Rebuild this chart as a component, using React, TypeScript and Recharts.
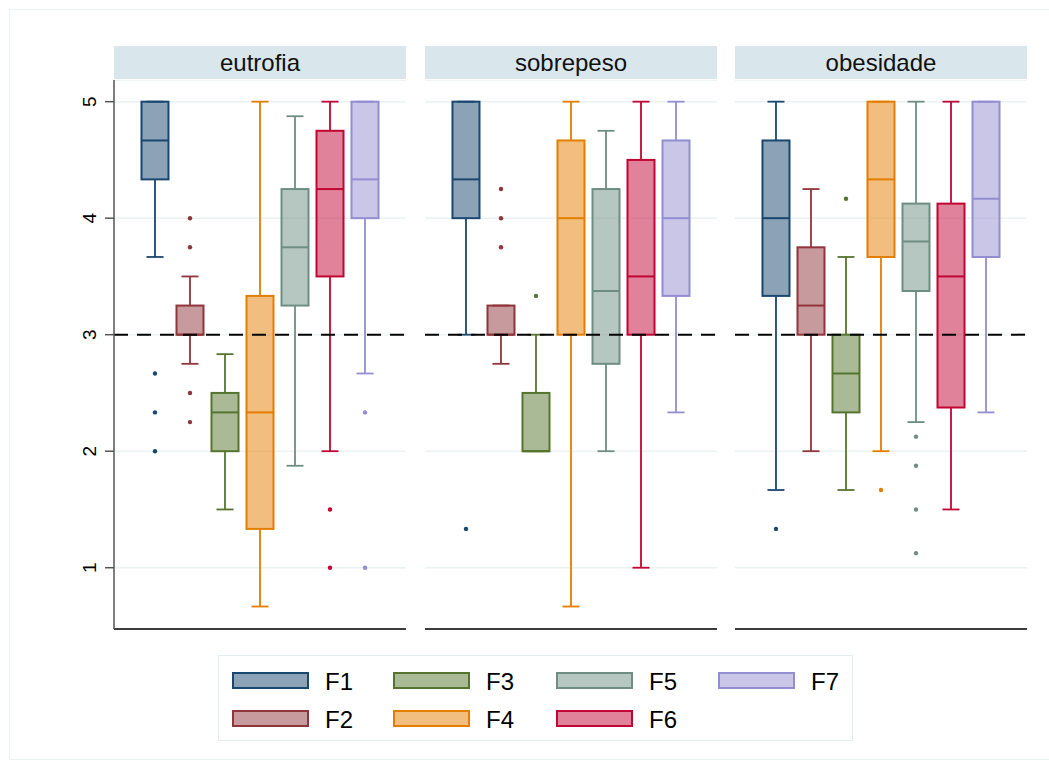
import { ComposedChart, Bar, Scatter, XAxis, YAxis, CartesianGrid, ReferenceLine } from 'recharts'

const factors = ['F1', 'F2', 'F3', 'F4', 'F5', 'F6', 'F7']
const groups = ['eutrofia', 'sobrepeso', 'obesidade']
const lineColors = ['#1a476f', '#90353b', '#55752f', '#e37e00', '#6e8e84', '#c10534', '#938dd2']
const yTicks = [1, 2, 3, 4, 5]

// [lower whisker, Q1, median, Q3, upper whisker] per factor
const eutrofiaStats = [
  [3.667, 4.333, 4.667, 5, 5],
  [2.75, 3, 3, 3.25, 3.5],
  [1.5, 2, 2.333, 2.5, 2.833],
  [0.667, 1.333, 2.333, 3.333, 5],
  [1.875, 3.25, 3.75, 4.25, 4.875],
  [2, 3.5, 4.25, 4.75, 5],
  [2.667, 4, 4.333, 5, 5],
]
const sobrepesoStats = [
  [3, 4, 4.333, 5, 5],
  [2.75, 3, 3, 3.25, 3.25],
  [2, 2, 2, 2.5, 3],
  [0.667, 3, 4, 4.667, 5],
  [2, 2.75, 3.375, 4.25, 4.75],
  [1, 3, 3.5, 4.5, 5],
  [2.333, 3.333, 4, 4.667, 5],
]
const obesidadeStats = [
  [1.667, 3.333, 4, 4.667, 5],
  [2, 3, 3.25, 3.75, 4.25],
  [1.667, 2.333, 2.667, 3, 3.667],
  [2, 3.667, 4.333, 5, 5],
  [2.25, 3.375, 3.8, 4.125, 5],
  [1.5, 2.375, 3.5, 4.125, 5],
  [2.333, 3.667, 4.167, 5, 5],
]

// outside values: [factor index, value]
const eutrofiaOutliers = [[0, 2.667], [0, 2.333], [0, 2], [1, 4], [1, 3.75], [1, 2.5], [1, 2.25], [5, 1.5], [5, 1], [6, 2.333], [6, 1]]
const sobrepesoOutliers = [[0, 1.333], [1, 4.25], [1, 4], [1, 3.75], [2, 3.333]]
const obesidadeOutliers = [[0, 1.333], [2, 4.167], [3, 1.667], [4, 2.125], [4, 1.875], [4, 1.5], [4, 1.125]]

const FONT = '"Liberation Sans", Arial, sans-serif'

function BoxShape(props: any) {
  const { x, y, width, height, payload } = props
  const top = Math.min(y, y + height)
  const h = Math.abs(height)
  const { lo, q1, med, q3, hi, color } = payload
  const k = h / (q3 - q1)
  const py = (v: number) => top + (q3 - v) * k
  const cx = x + width / 2
  const cap = 8.5
  return (
    <g>
      <line x1={cx} x2={cx} y1={py(hi)} y2={top} stroke={color} strokeWidth={1.8} />
      <line x1={cx} x2={cx} y1={top + h} y2={py(lo)} stroke={color} strokeWidth={1.8} />
      <line x1={cx - cap} x2={cx + cap} y1={py(hi)} y2={py(hi)} stroke={color} strokeWidth={1.8} />
      <line x1={cx - cap} x2={cx + cap} y1={py(lo)} y2={py(lo)} stroke={color} strokeWidth={1.8} />
      <rect x={x} y={top} width={width} height={h} fill={color} fillOpacity={0.5} stroke={color} strokeWidth={2} />
      <line x1={x} x2={x + width} y1={py(med)} y2={py(med)} stroke={color} strokeWidth={2} />
    </g>
  )
}

function RotTick(props: any) {
  const { x, y, payload } = props
  return (
    <text transform={`translate(${x - 7},${y}) rotate(-90)`} textAnchor="middle" fontSize={19} fill="#000" fontFamily={FONT}>
      {payload.value}
    </text>
  )
}

function Panel({ title, stats, outliers, plotLeft, showAxis }: any) {
  const data = stats.map((s: number[], i: number) => ({
    pos: i, name: factors[i], lo: s[0], q1: s[1], med: s[2], q3: s[3], hi: s[4], color: lineColors[i],
  }))
  const pts = outliers.map(([i, v]: number[]) => ({ pos: i, v, color: lineColors[i] }))
  const axisW = showAxis ? 64 : 0
  const plotW = 292
  return (
    <>
      <div style={{
        position: 'absolute', left: plotLeft, top: 46, width: plotW, height: 33, background: '#d9e6ec',
        fontFamily: FONT, fontSize: 24, lineHeight: '33px', textAlign: 'center', color: '#111',
      }}>{title}</div>
      <div style={{ position: 'absolute', left: plotLeft - axisW, top: 80 }}>
        <ComposedChart width={plotW + axisW} height={550} data={data} margin={{ top: 0, right: 0, bottom: 0, left: 0 }}>
          <CartesianGrid vertical={false} stroke="#eaf2f3" strokeWidth={1.5} />
          <XAxis type="number" dataKey="pos" domain={[-1.171, 7.171]} allowDataOverflow height={1}
            tick={false} tickLine={false} axisLine={{ stroke: '#000', strokeWidth: 1.5 }} />
          <YAxis type="number" domain={[0.474, 5.186]} allowDataOverflow ticks={yTicks} hide={!showAxis}
            width={axisW} tickSize={9} tickMargin={2} tick={<RotTick />}
            axisLine={{ stroke: '#555', strokeWidth: 1.5 }} tickLine={{ stroke: '#555', strokeWidth: 1.5 }} />
          <ReferenceLine y={3} stroke="#000" strokeWidth={2} strokeDasharray="14 9" />
          <Bar dataKey={(d: any) => [d.q1, d.q3]} barSize={27} shape={<BoxShape />} isAnimationActive={false} />
          <Scatter data={pts} dataKey="v" isAnimationActive={false}
            shape={(p: any) => <circle cx={p.cx} cy={p.cy} r={2.2} fill={p.payload.color} />} />
        </ComposedChart>
      </div>
    </>
  )
}

function LegendBox() {
  const colX = [231, 392, 555, 717]
  const rowY = [671, 709]
  return (
    <div style={{ position: 'absolute', left: 218, top: 655, width: 635, height: 86, border: '1px solid #e3ecef', boxSizing: 'border-box' }}>
      {factors.map((f, i) => {
        const col = Math.floor(i / 2)
        const row = i % 2
        return (
          <div key={f}>
            <div style={{
              position: 'absolute', left: colX[col] - 218, top: rowY[row] - 655, width: 77, height: 17,
              boxSizing: 'border-box', border: `2px solid ${lineColors[i]}`, background: lineColors[i] + '80',
            }} />
            <div style={{
              position: 'absolute', left: colX[col] - 218 + 93, top: rowY[row] - 655 - 3, fontFamily: FONT,
              fontSize: 24, lineHeight: '26px', color: '#000',
            }}>{f}</div>
          </div>
        )
      })}
    </div>
  )
}

export default function App() {
  return (
    <div style={{ position: 'relative', width: 1049, height: 767, overflow: 'hidden', background: '#fff' }}>
      <style>{'body{margin:0}'}</style>
      <div style={{ position: 'absolute', left: 9, top: 9, width: 1060, height: 749, border: '1px solid #eaf2f3' }} />
      <Panel title={groups[0]} stats={eutrofiaStats} outliers={eutrofiaOutliers} plotLeft={114} showAxis />
      <Panel title={groups[1]} stats={sobrepesoStats} outliers={sobrepesoOutliers} plotLeft={425} showAxis={false} />
      <Panel title={groups[2]} stats={obesidadeStats} outliers={obesidadeOutliers} plotLeft={735} showAxis={false} />
      <LegendBox />
    </div>
  )
}
